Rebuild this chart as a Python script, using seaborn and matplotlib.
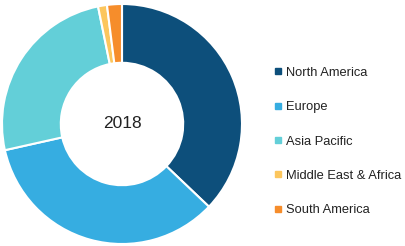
import matplotlib
matplotlib.use("Agg")
import matplotlib.pyplot as plt
import seaborn as sns
from matplotlib.lines import Line2D

regions = ["North America", "Europe", "Asia Pacific", "Middle East & Africa", "South America"]
shares = [37.1, 34.4, 25.3, 1.2, 2.0]
colors = ["#0d4f7b", "#36ade1", "#63cfd8", "#fcc65d", "#f68d2b"]
center_label = "2018"

sns.set_theme(style="white")
plt.rcParams["font.family"] = ["Liberation Sans", "DejaVu Sans"]
palette = sns.color_palette(colors)

fig = plt.figure(figsize=(4.06, 2.46), dpi=100)
ax = fig.add_axes([2 / 406, 2 / 246, 240 / 406, 240 / 246])
ax.pie(shares, colors=palette, startangle=90, counterclock=False,
       wedgeprops=dict(width=0.49, edgecolor="white", linewidth=1.5))
ax.set_xlim(-1.0, 1.0)
ax.set_ylim(-1.0, 1.0)
ax.set_aspect("equal")
ax.text(0, 0, center_label, ha="center", va="center", fontsize=12.5, color="#222222")

handles = [Line2D([], [], marker="s", linestyle="none", markersize=4.5,
                  markerfacecolor=c, markeredgecolor=c) for c in palette]
fig.legend(handles, regions, loc="center left", bbox_to_anchor=(266 / 406, 1 - 141.5 / 246),
           frameon=False, fontsize=9.3, labelspacing=1.72, handlelength=0.8,
           handletextpad=0.25, borderpad=0, labelcolor="#222222")

fig.savefig("out.png", dpi=100)
